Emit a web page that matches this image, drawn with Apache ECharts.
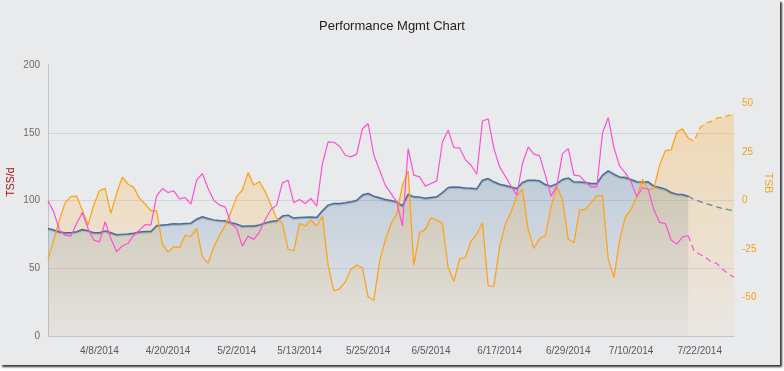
<!DOCTYPE html>
<html><head><meta charset="utf-8">
<script src="https://cdn.jsdelivr.net/npm/echarts@6/dist/echarts.min.js"></script>
<style>
html,body{margin:0;padding:0;background:#ffffff;}
#frame{position:absolute;left:0;top:0;width:780px;height:365px;background:#e9eaec;box-shadow:2px 2px 2px rgba(30,30,30,0.9);}
#chart{position:absolute;left:0;top:0;width:784px;height:371px;}
</style></head>
<body><div id="frame"></div><div id="chart"></div>
<script>
// ---- data ----
const tickLabels = ['4/8/2014','4/20/2014','5/2/2014','5/13/2014','5/25/2014','6/5/2014','6/17/2014','6/29/2014','7/10/2014','7/22/2014'];
const leftTicks = [0, 50, 100, 150, 200];
const rightTicks = [-50, -25, 0, 25, 50];
const firstDay = [2014, 3, 30];   // 3/30/2014, one point per day
const futureFrom = '7/20/2014';   // planned part (dashed) starts here

// ATL (fatigue), TSS/d
const atl = [99.8,91.6,78.1,74.4,73.7,83,90.9,79.4,70.8,69.5,84.3,72,62.2,66.6,68.3,74.4,78.1,82.3,81.8,103.4,
108.8,105.9,107.1,101.2,102.2,97.3,115,119.9,108.8,100.2,96.6,95.3,83,79.4,66.3,73.7,71.3,76.9,86,93.4,
96.6,113,115,98.3,100.7,97.8,101.5,95.8,127.3,143.2,143,140,133.4,132.2,134.2,153,156.8,133.4,122.4,111.3,
105.2,99,81.3,138.3,118.7,117.4,110.6,112.5,114.5,143.2,151.8,139,138.8,130.2,126,119.4,158.7,160.2,138.3,124.8,
117.9,110.6,103.9,127.3,139.6,134.2,132.9,118.7,103.2,110.6,134.6,138.3,118.7,118.2,113.8,110,110,149.9,161.2,139,
125.3,120.4,113.8,102.7,109.6,108.1,92.9,83.8,83,70.8,67.8,73.2,74,62.9,60.4,58,54.8,53.6,49.1,46,43.2];

// CTL (fitness), TSS/d
const ctl = [79.4,78.2,76.7,76.2,76.2,76.9,78.6,77.6,76.2,76.2,77.6,76.2,74.7,75,75.2,75.9,76.7,77.1,77.1,81.3,
82,82.3,82.8,82.6,83,83.3,86.2,88,86.7,85.7,85.2,85,83.5,82.6,81,81.2,81.2,82,83.5,84.5,
85,88.5,89.2,87,87.5,87.7,87.9,87.5,92.4,96.6,97.8,97.8,98.3,99,100.2,104,105.2,103.2,102,100.7,
100,99,96,104.7,102.7,102.5,101.7,102.2,102.7,105.9,109.6,110,109.8,109.3,109,108.6,115,116.2,113.8,112,
111,110,108.8,113.3,115,115,114.5,111.8,110.6,112.5,115.5,116.7,113.8,113.6,113.3,112.5,112.5,118.7,121.9,119.4,
117.4,117,115.5,113.8,113.6,113.8,110.6,109.6,108.4,105.9,104.7,104.4,103.2,100.7,99.3,97.8,96.6,95.3,94.1,93.2,92.4];

// TSB (form)
const tsb = [-30.3,-20.4,-10,-1.1,2,2.3,-4.9,-12.7,-2.3,5.1,6.3,-6.6,3.7,12,8.5,6.8,1.1,-1.8,-5.3,-5.3,
-22.5,-26.7,-23.9,-24.4,-18,-18.5,-14.4,-29,-32.5,-24,-18,-13,-6,2,5.4,14.4,8,9.7,4.6,-2.3,
-9.2,-11.8,-25.1,-26,-11.8,-13.2,-10.1,-13.2,-8,-33.4,-46.7,-45.6,-42,-35.5,-33.4,-34.8,-49.8,-51.5,-31.6,-20.4,
-12,-7,8,15.3,-33.4,-16.6,-14.9,-8.9,-10.1,-11.8,-34.6,-41.7,-30,-29.6,-21,-17.3,-11.5,-44.1,-44.2,-23.9,
-12.2,-5.8,2.3,5.8,-14.9,-24.8,-19.6,-18.2,-3.2,7.2,0.6,-19.9,-21.8,-4.9,-4.6,-1.1,2.5,2.5,-30.3,-39.8,
-20.4,-8.4,-4.6,2,11,5.8,6.3,18.4,25.8,26.1,35.4,37,32.2,30.5,37.4,40,40.8,42.5,43,43.8,44.8];

// ---- build ----
const dates = [];
for (let i = 0; i < atl.length; i++) {
  const d = new Date(firstDay[0], firstDay[1] - 1, firstDay[2] + i);
  dates.push((d.getMonth() + 1) + '/' + d.getDate() + '/' + d.getFullYear());
}
const split = Math.max(0, dates.indexOf(futureFrom));
const past = a => a.map((v, i) => i <= split ? v : null);
const future = a => a.map((v, i) => i >= split ? v : null);

const grad = (top, bottom) => ({type:'linear', x:0, y:65, x2:0, y2:336, global:true,
  colorStops:[{offset:0, color:top},{offset:1, color:bottom}]});
const ctlFill = grad('rgba(60,110,158,0.55)', 'rgba(60,110,158,0.04)');
const tsbFill = grad('rgba(255,172,45,0.50)', 'rgba(255,172,45,0.07)');

const FONT = '"Liberation Sans", Arial, sans-serif';
const chart = echarts.init(document.getElementById('chart'), null, {renderer:'canvas'});
chart.setOption({
  backgroundColor: 'transparent',
  animation: false,
  title: {text:'Performance Mgmt Chart', left:'center', top:15,
    textStyle:{fontFamily:FONT, fontSize:13, fontWeight:'normal', color:'#1e1e1e'}},
  grid: {left:48, right:50, top:65, bottom:35, containLabel:false, outerBoundsMode:'none'},
  xAxis: {
    type:'category', data:dates, boundaryGap:false,
    axisLine:{lineStyle:{color:'#c4c5c8', width:1}},
    axisTick:{show:false},
    axisLabel:{interval:(idx, val) => tickLabels.includes(val), color:'#5a5a5a', fontSize:10, fontFamily:FONT, margin:10},
    splitLine:{show:false}
  },
  yAxis: [{
    type:'value', min:leftTicks[0], max:leftTicks[leftTicks.length-1], interval:50,
    name:'TSS/d', nameLocation:'middle', nameGap:31, nameMoveOverlap:false,
    nameTextStyle:{color:'#a31010', fontSize:10.5, fontFamily:FONT, padding:[0,0,0,37]},
    axisLine:{show:true, lineStyle:{color:'#c4c5c8'}},
    axisTick:{show:false},
    axisLabel:{color:'#6a6a6a', fontSize:10, fontFamily:FONT, margin:8},
    splitLine:{show:true, lineStyle:{color:['rgba(0,0,0,0)','#d3d4d7','#d3d4d7','#d3d4d7','rgba(0,0,0,0)'], width:1}}
  },{
    type:'value', min:-70, max:70, position:'right',
    name:'TSB', nameLocation:'middle', nameGap:28, nameRotate:-90, nameMoveOverlap:false,
    nameTextStyle:{color:'#f5a623', fontSize:10.5, fontFamily:FONT, padding:[0,35,0,0]},
    axisLine:{show:false}, axisTick:{show:false},
    axisLabel:{customValues:rightTicks, color:'#f5a21c', fontSize:10, fontFamily:FONT, margin:8},
    splitLine:{show:false}
  }],
  series: [
    {name:'CTL', type:'line', data:past(ctl), yAxisIndex:0, symbol:'none',
      lineStyle:{color:'#46709a', width:1.5, shadowColor:'rgba(0,0,0,0.2)', shadowBlur:1, shadowOffsetY:1},
      areaStyle:{color:ctlFill, origin:'start'}},
    {name:'CTL plan', type:'line', data:future(ctl), yAxisIndex:0, symbol:'none',
      lineStyle:{color:'#6d8599', width:1.3, type:[6,4]}},
    {name:'TSB', type:'line', data:past(tsb), yAxisIndex:1, symbol:'none',
      lineStyle:{color:'#ffa31a', width:1.3},
      areaStyle:{color:tsbFill, origin:'start'}},
    {name:'TSB plan', type:'line', data:future(tsb), yAxisIndex:1, symbol:'none',
      lineStyle:{color:'#ffa31a', width:1.3, type:[6,4]},
      areaStyle:{color:tsbFill, origin:'start'}},
    {name:'ATL', type:'line', data:past(atl), yAxisIndex:0, symbol:'none',
      lineStyle:{color:'#ff4fd6', width:1.2}},
    {name:'ATL plan', type:'line', data:future(atl), yAxisIndex:0, symbol:'none',
      lineStyle:{color:'#ff4fd6', width:1.2, type:[6,4]}}
  ]
});
</script>
</body></html>
